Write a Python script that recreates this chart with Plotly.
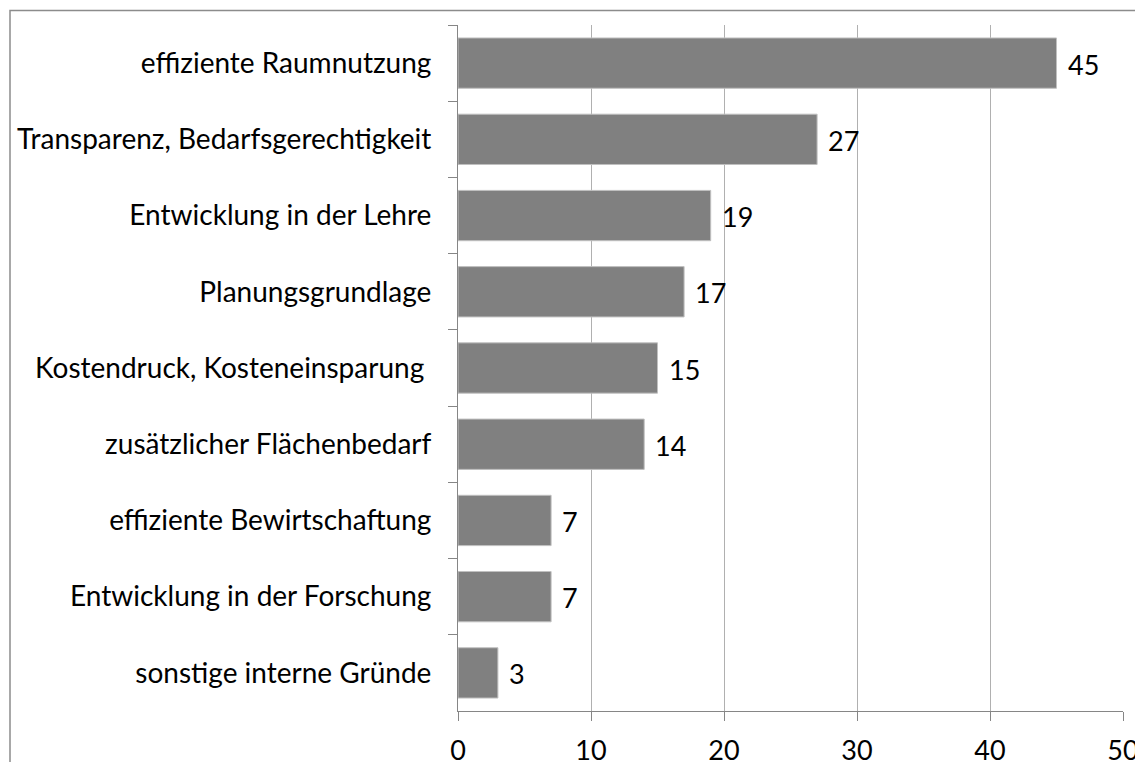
import plotly.graph_objects as go

# Gründe (top to bottom) and number of mentions
categories = [
    "effiziente Raumnutzung",
    "Transparenz, Bedarfsgerechtigkeit",
    "Entwicklung in der Lehre",
    "Planungsgrundlage",
    "Kostendruck, Kosteneinsparung\u00a0",
    "zusätzlicher Flächenbedarf",
    "effiziente Bewirtschaftung",
    "Entwicklung in der Forschung",
    "sonstige interne Gründe",
]
values = [45, 27, 19, 17, 15, 14, 7, 7, 3]
x_ticks = [0, 10, 20, 30, 40, 50]

W, H = 1135, 762
M_L, M_R, M_T, M_B = 458, 12, 25, 51
FONT = "Lato"
AXIS_COLOR = "#868686"
GRID_COLOR = "#b0b0b0"

fig = go.Figure(
    go.Bar(
        x=values,
        y=categories,
        orientation="h",
        width=0.66,
        marker=dict(color="#808080", line=dict(color="#c0c0c0", width=1)),
        hoverinfo="x+y",
    )
)

# value labels right of each bar
for c, v in zip(categories, values):
    fig.add_annotation(
        x=v, y=c, text=str(v), showarrow=False,
        xanchor="left", xshift=9, yshift=-1,
        font=dict(family=FONT, size=27, color="#000000"),
    )

# chart frame (extends past the visible page on the right and bottom)
pw, ph = W - M_L - M_R, H - M_T - M_B
fig.add_shape(
    type="rect", xref="paper", yref="paper",
    x0=(10 - M_L) / pw, x1=(W + 40 - M_L) / pw,
    y0=-(M_B + 40) / ph, y1=1 + (M_T - 10.5) / ph,
    line=dict(color="#8c8c8c", width=1.5), fillcolor="rgba(0,0,0,0)",
    layer="below",
)

fig.update_layout(
    width=W, height=H,
    margin=dict(l=M_L, r=M_R, t=M_T, b=M_B, autoexpand=False),
    paper_bgcolor="white", plot_bgcolor="white",
    showlegend=False,
    bargap=0.34,
    font=dict(family=FONT, color="#000000"),
)

fig.update_xaxes(
    range=[0, 50], tickvals=x_ticks, ticktext=[str(t) for t in x_ticks],
    showgrid=True, gridcolor=GRID_COLOR, gridwidth=1,
    showline=True, linecolor=AXIS_COLOR, linewidth=1,
    ticks="outside", ticklen=9, tickcolor=AXIS_COLOR,
    tickfont=dict(family=FONT, size=27, color="#000000"),
    ticklabelstandoff=7, ticklabeloverflow="allow",
    zeroline=False, fixedrange=True, automargin=False,
)
fig.update_yaxes(
    autorange="reversed",
    showgrid=False,
    showline=True, linecolor=AXIS_COLOR, linewidth=1,
    ticks="outside", ticklen=9, tickcolor=AXIS_COLOR, tickson="boundaries",
    tickfont=dict(family=FONT, size=28, color="#000000"),
    ticklabelstandoff=20,
    fixedrange=True, automargin=False,
)

fig.write_html("out.html")
